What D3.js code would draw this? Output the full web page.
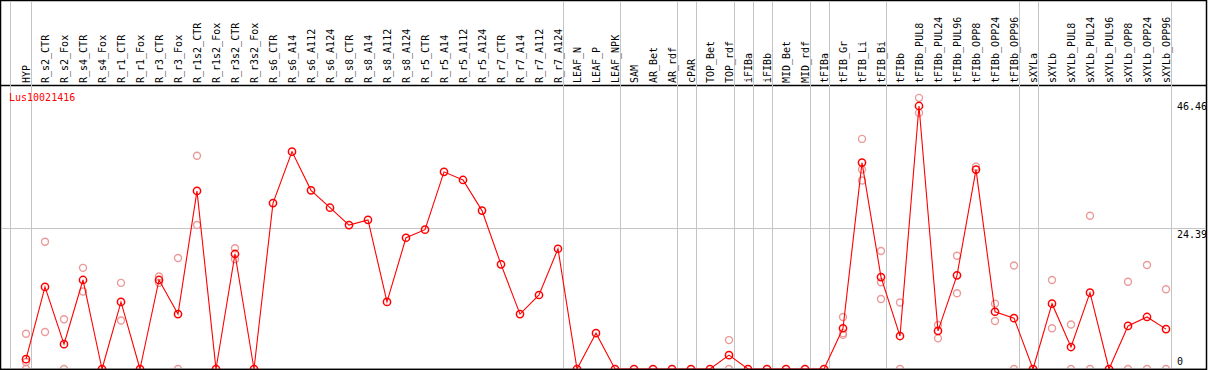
<!DOCTYPE html>
<html>
<head>
<meta charset="utf-8">
<script src="https://cdn.jsdelivr.net/npm/d3@7"></script>
<style>
    body { margin: 0; background: #fff; }
    svg { display: block; }
    text { font-family: "DejaVu Sans Mono", monospace; font-size: 10px; }
</style>
</head>
<body>
<svg id="chart"></svg>
<script>
// sample labels (header)
var samples = ["HYP", "R_s2_CTR", "R_s2_Fox", "R_s4_CTR", "R_s4_Fox", "R_r1_CTR", "R_r1_Fox",
    "R_r3_CTR", "R_r3_Fox", "R_r1s2_CTR", "R_r1s2_Fox", "R_r3s2_CTR", "R_r3s2_Fox",
    "R_s6_CTR", "R_s6_A14", "R_s6_A112", "R_s6_A124", "R_s8_CTR", "R_s8_A14", "R_s8_A112",
    "R_s8_A124", "R_r5_CTR", "R_r5_A14", "R_r5_A112", "R_r5_A124", "R_r7_CTR", "R_r7_A14",
    "R_r7_A112", "R_r7_A124", "LEAF_N", "LEAF_P", "LEAF_NPK", "SAM", "AR_Bet", "AR_rdf",
    "cPAR", "TOP_Bet", "TOP_rdf", "iFIBa", "iFIBb", "MID_Bet", "MID_rdf", "tFIBa", "tFIB_Gr",
    "tFIB_Li", "tFIB_Bi", "tFIBb", "tFIBb_PUL8", "tFIBb_PUL24", "tFIBb_PUL96", "tFIBb_OPP8",
    "tFIBb_OPP24", "tFIBb_OPP96", "sXYLa", "sXYLb", "sXYLb_PUL8", "sXYLb_PUL24", "sXYLb_PUL96",
    "sXYLb_OPP8", "sXYLb_OPP24", "sXYLb_OPP96"];

// mean expression per sample
var meanValues = [1.7, 14.2, 4.3, 15.4, 0, 11.6, 0, 15.4, 9.5, 30.8, 0, 19.9, 0,
    28.7, 37.6, 30.9, 27.9, 24.9, 25.8, 11.6, 22.7, 24.1, 34.1, 32.7, 27.4, 18.1, 9.5,
    12.8, 20.8, 0, 6.2, 0, 0, 0, 0, 0, 0, 2.4, 0, 0, 0, 0, 0, 7.05,
    35.7, 15.9, 5.7, 45.5, 6.6, 16.2, 34.5, 9.9, 8.8, 0, 11.3, 3.8, 13.2, 0,
    7.45, 9.0, 6.9];

// visible replicates per sample (empty = hidden under the mean)
var replicates = [[6.1, 1.2, 0], [22.0, 6.4], [8.6, 0], [17.5, 13.4], [], [14.9, 8.4], [],
    [16.0, 14.9], [19.2, 0], [36.9, 24.9], [], [20.9, 19.0], [],
    [], [], [], [], [], [], [], [], [], [], [], [], [], [], [], [],
    [], [], [], [], [], [], [], [], [5.0, 0], [], [], [], [], [], [9.0, 5.9, 6.2],
    [39.8, 34.5, 32.6], [20.4, 15.0, 12.1], [11.5, 0], [46.9, 44.3], [7.6, 5.3], [19.6, 13.1],
    [35.0], [11.3, 8.3], [17.9, 0], [], [15.4, 7.05], [7.7, 0], [26.5, 0], [],
    [15.1, 0], [18.0, 0], [13.8, 0]];

// index of last sample in each group (group separators)
var groupEnds = [0, 28, 31, 34, 35, 37, 38, 39, 41, 42, 45, 52, 53, 60];

var tickValues = [46.46, 24.39, 0];
var geneName = "Lus10021416";

var width = 1209, height = 370;
var headerH = 85;
var plotBottom = 369;

var svg = d3.select("#chart")
    .attr("width", width)
    .attr("height", height);

var xScale = d3.scalePoint()
    .domain(samples)
    .range([26, 1166]);

var step = xScale.step();

var yScale = d3.scaleLinear()
    .domain([0, 24.39 * 2])
    .range([plotBottom, 87]);

// frame
svg.append("rect")
    .attr("x", 0.5).attr("y", 0.5)
    .attr("width", 1206).attr("height", plotBottom)
    .attr("fill", "none")
    .attr("stroke", "#000")
    .attr("stroke-width", 1.5);

svg.append("line")
    .attr("x1", 0).attr("x2", 1207)
    .attr("y1", headerH + 0.5).attr("y2", headerH + 0.5)
    .attr("stroke", "#000")
    .attr("stroke-width", 1.5);

// horizontal grid at middle tick
svg.append("line")
    .attr("x1", 1).attr("x2", 1206)
    .attr("y1", Math.round(yScale(24.39)) + 0.5)
    .attr("y2", Math.round(yScale(24.39)) + 0.5)
    .attr("stroke", "#c4c4c4");

// group separators
var sepX = [10.5].concat(groupEnds.map(function (i) {
    return Math.round(xScale(samples[i]) + step / 4) + 0.5;
}));

svg.selectAll(".sep")
    .data(sepX)
    .enter().append("line")
    .attr("class", "sep")
    .attr("x1", function (d) { return d; })
    .attr("x2", function (d) { return d; })
    .attr("y1", 1).attr("y2", plotBottom)
    .attr("stroke", "#c4c4c4");

// header labels
svg.selectAll(".lbl")
    .data(samples)
    .enter().append("text")
    .attr("class", "lbl")
    .attr("transform", function (d) {
        return "translate(" + (xScale(d) + 3.5) + "," + (headerH - 2) + ") rotate(-90)";
    })
    .attr("fill", "#000")
    .text(function (d) { return d; });

// gene name
svg.append("text")
    .attr("x", 9)
    .attr("y", 100.5)
    .attr("fill", "#ff0000")
    .text(geneName);

// right tick labels
svg.selectAll(".tick-lbl")
    .data(tickValues)
    .enter().append("text")
    .attr("class", "tick-lbl")
    .attr("x", 1177)
    .attr("y", function (d) { return Math.min(yScale(d) + 9.5, 365); })
    .attr("fill", "#000")
    .text(function (d) { return d; });

// replicate points
var repPoints = [];
replicates.forEach(function (reps, i) {
    reps.forEach(function (v) {
        repPoints.push({ sample: samples[i], value: v });
    });
});

var plot = svg.append("g");

plot.selectAll(".rep")
    .data(repPoints)
    .enter().append("circle")
    .attr("class", "rep")
    .attr("cx", function (d) { return xScale(d.sample); })
    .attr("cy", function (d) { return yScale(d.value); })
    .attr("r", 3.5)
    .attr("fill", "none")
    .attr("stroke", "#eb9a9a")
    .attr("stroke-width", 1.4);

var series = samples.map(function (s, i) { return { sample: s, value: meanValues[i] }; });

var line = d3.line()
    .x(function (d) { return xScale(d.sample); })
    .y(function (d) { return yScale(d.value); });

plot.append("path")
    .attr("d", line(series))
    .attr("fill", "none")
    .attr("stroke", "#ff0000")
    .attr("stroke-width", 1.1);

plot.selectAll(".dot")
    .data(series)
    .enter().append("circle")
    .attr("class", "dot")
    .attr("cx", function (d) { return xScale(d.sample); })
    .attr("cy", function (d) { return yScale(d.value); })
    .attr("r", 3.6)
    .attr("fill", "none")
    .attr("stroke", "#ff0000")
    .attr("stroke-width", 1.5);

// redraw bottom edge over zero points
svg.append("line")
    .attr("x1", 0).attr("x2", 1207)
    .attr("y1", plotBottom + 0.5).attr("y2", plotBottom + 0.5)
    .attr("stroke", "#000")
    .attr("stroke-width", 1.5);
</script>
</body>
</html>
